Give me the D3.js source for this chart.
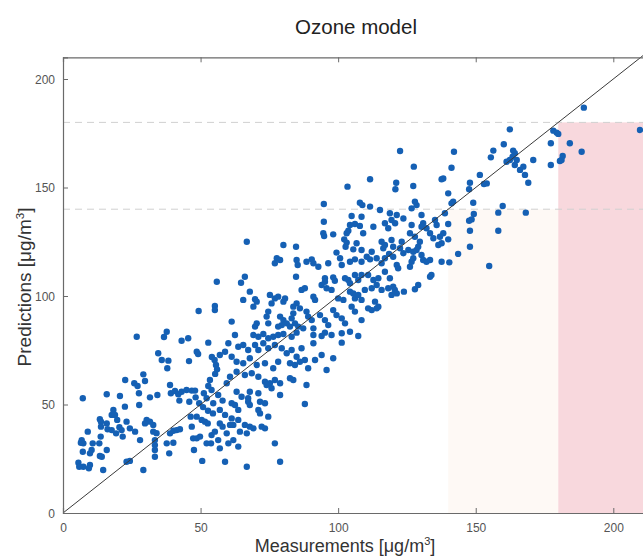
<!DOCTYPE html>
<html><head><meta charset="utf-8">
<script src="https://cdn.jsdelivr.net/npm/d3@7/dist/d3.min.js"></script>
<style>body{margin:0;background:#fff}svg{display:block}text{font-family:"Liberation Sans",Arial,sans-serif}</style>
</head><body>
<script>
const title = "Ozone model";
const xLabel = "Measurements [μg/m";
const yLabel = "Predictions [μg/m";
const xTicks = [0, 50, 100, 150, 200];
const yTicks = [0, 50, 100, 150, 200];
const xDomain = [0, 215];
const yDomain = [0, 210];
const thresholds = [140, 180];
const exceedLimit = 180;
const warnZone = [140, 180];
const points = [
[55.9,106.6],[49.3,93.1],[55.2,95.4],[55.2,93.5],[26.8,81.2],[37.7,83.5],[36.7,81.1],[43.1,79.4],[45.5,80.5],[52.8,78.5],
[34.6,73.6],[35.9,70.5],[38.3,70.2],[37.9,66.7],[48.6,74.3],[49.1,73.3],[45.8,70],[54.1,71.9],[55.1,70.5],[55.6,68.2],
[56,66.2],[55.3,64.1],[57,72.8],[58.9,74.3],[22.6,61.3],[25.9,59.8],[27.1,58.5],[29.2,63.9],[29.8,60.8],[27.6,55.2],
[27.7,49.8],[31.6,53.3],[34.3,54.4],[38.9,59],[39.2,55.2],[40.7,56.2],[41.9,54.7],[43.1,55.9],[44.9,56.7],[46.8,56.4],
[48,56.4],[42.3,51.8],[45.9,51.3],[48.2,53.3],[49.5,50.6],[51.2,55.2],[52.2,52.9],[53.4,61.3],[52.8,58.5],[54,56.7],
[54.6,50.6],[56.4,54.4],[58,51.8],[59.5,59.8],[50.9,48.8],[52.7,47.1],[54.5,45.9],[57,47.5],[58.9,45.2],[7.2,52.9],
[15.9,54.7],[20.7,53.9],[22.5,49],[19.7,42.9],[13.4,43.2],[13.8,42.1],[18.3,47.5],[18.9,45.2],[23.1,42.1],[24.3,39],
[26.2,37.5],[28,33.6],[20.5,39.5],[21.3,38.2],[21.7,35.2],[19.3,36.7],[17.7,45.2],[15.9,41.3],[16.2,38.6],[13.7,35.2],
[13.8,39.8],[17.7,38.2],[9,37.5],[10.8,32.1],[7.4,32.1],[13.2,32.1],[10.4,29],[6.8,33.6],[6.5,32.4],[7.2,28.2],
[9.8,27.5],[13.4,26.3],[14.1,25.9],[15.9,29],[14.6,19.8],[5.6,23.2],[7.4,21.3],[9.8,22.1],[5.9,21.3],[9.4,20.6],
[23.1,23.6],[24.3,24],[29.2,19.8],[30.4,42.9],[31.6,42.1],[29.8,41.3],[32.8,40.6],[32.8,37.5],[34,36.8],[33.4,33.6],
[33.4,31.3],[33.4,29],[33.4,25.9],[38.6,27.5],[37.7,32.1],[38.9,36.7],[40.1,37.9],[41.3,38.2],[42.5,38.6],[40.1,32.4],
[46.8,39.8],[47.3,34.4],[48.6,34.4],[49.8,35.2],[47.6,29],[50.6,24],[52.2,32.1],[53.8,32.1],[54,35.9],[55.2,37.5],
[56.4,33.6],[57,29.8],[58.9,23.6],[59.5,36.7],[60.1,32.1],[50.4,42.9],[51.6,42.1],[52.6,41.3],[48.6,44.4],[46.4,44.4],
[57,41.3],[58,39.8],
[94.8,142.4],[107.9,143],[108.8,141.9],[111.6,141.2],[115.2,139.6],[118.8,138.1],[104.9,136.9],[108.5,136.5],[119.4,135],[94.8,134.2],
[104.3,132.7],[106.1,133.2],[107.9,132.3],[112.8,131.9],[117,133.5],[118.2,131.2],[94.6,128.9],[94.9,127.6],[98.2,128.4],[103.7,130.1],
[103.1,128.9],[109.1,128.9],[66.8,125],[80.1,123.5],[84.7,122.7],[102.2,126.1],[103.1,124.6],[102.7,122.7],[106.7,124.3],[105.5,121.5],
[115.8,125],[117,123.5],[116.4,122],[119.4,125.8],[120,122.7],[112.2,120.4],[108.5,121.2],[99.4,120],[77.7,117.4],[78.9,116.6],
[77,115.1],[84.9,116.6],[85.3,114.3],[88.5,115.8],[90.4,116.9],[91,115.1],[92.8,113.5],[96.4,115.1],[100.7,117.4],[101.3,114.3],
[104.3,115.8],[106.1,116.9],[108.5,115.8],[110.4,118.1],[111.6,116.9],[114,117.4],[115.8,115.1],[117,117.4],[118.5,119.4],[120,118.1],
[66.1,108.9],[64.7,106.1],[84.7,108.9],[95.2,108.2],[95.2,106.6],[98.2,108.6],[98.8,107],[103.7,107.4],[104.3,105.9],[102.5,108.2],
[106.1,109.7],[107.3,107.4],[108.5,109.7],[110.9,109.7],[112.8,107.4],[114.6,108.2],[117,111.2],[118.8,108.2],[120,104.3],[67.9,102],
[69.8,98.5],[70.4,97.4],[65.5,98.2],[69.2,95.1],[75.2,100.5],[77,98.9],[78.2,99.7],[75.8,96.6],[80.7,98.9],[80.1,97.4],
[83.7,95.1],[84.9,96.6],[86.1,94.3],[83.7,92],[86.7,102.8],[87.9,103.6],[91,99.7],[91.6,98.2],[94,105.1],[95.8,103.6],
[97.6,102.8],[100,98.9],[101.9,98.2],[104.3,102],[105.5,101.2],[106.1,98.9],[107.3,100.5],[108.5,98.2],[109.7,102.8],[112.2,103.6],
[114,105.1],[115.8,102.8],[118.2,103.6],[119.4,100.5],[113.4,97.4],[114.6,95.1],[110.9,94.3],[104.9,95.1],[106.1,92.8],[98.2,93.5],
[99.4,91.2],[74.6,92.8],[74,90.5],[70.4,87.4],[69.8,85.9],[61.3,88.2],[78.9,90.5],[80.1,88.9],[81.3,87.4],[79.5,86.6],
[78.2,85.9],[83.1,89.7],[84.3,87.4],[85.5,85.9],[82.5,85.9],[88.5,92.8],[89.1,90.5],[90.4,88.9],[93.4,91.2],[95.2,88.9],
[96.4,86.6],[101.3,89.7],[102.5,87.4],[108.5,88.9],[112.2,93.5],[114,94.3],[87.3,85.1],[91,85.1],[74.6,87.4],
[62.5,82],[69.2,82],[71,81.2],[72.8,82.5],[74.6,80.5],[76.4,81.2],[78.2,82],[80.1,82.5],[83.1,81.2],[84.9,83.1],
[91,82],[94,81.6],[95.2,83.1],[97.6,82],[101.3,82.8],[104.3,83.5],[107.3,81.6],[60.1,78.2],[63.7,76.6],[65.5,77.4],
[67.3,75.1],[69.8,77.4],[71,75.1],[72.8,78.2],[74.6,75.9],[77,77.4],[79.5,75.9],[81.3,73.6],[83.1,75.1],[84.9,72],
[86.7,75.9],[87.9,70.5],[91,78.2],[94,72.8],[98.2,71.3],[101.3,78.5],[61.3,72],[63.1,69.7],[65.5,69],[67.9,71.3],
[70.4,68.2],[73.4,69],[76.4,66.7],[78.2,69.7],[82.5,69],[84.3,68.2],[86.1,69.7],[89.1,66.7],[91.6,70.5],[95.8,65.9],
[60.7,62.8],[63.1,65.1],[66.1,63.6],[68.6,64.4],[71,62.8],[73.4,60.5],[75.2,59.8],[77,61.3],[78.9,59.8],[82.5,62.1],
[83.7,61.3],[88.5,59],[63.1,55.9],[64.9,53.6],[67.3,52.9],[67.9,55.9],[71,55.2],[74,59],[75.8,57.5],[78.9,54.4],
[61.3,50.6],[62.5,49.8],[63.7,47.5],[67.3,51.3],[67.9,49.8],[71.6,51.3],[73.4,50.6],[71,47.5],[71.6,45.9],[87.9,50.2],
[74.6,44.4],[61.3,43.6],[63.7,42.9],[61.9,40.6],[60.7,40.6],[66.1,40.6],[67.9,39.8],[69.2,39],[72.2,39.8],[73.4,39],
[64.3,37.5],[66.8,36.7],[61.9,33.6],[63.7,30.6],[77,32.1],[78.9,23.6],[66.8,21.3],
[111.6,153.8],[103.4,150.4],[121.1,152.2],[120.8,149.2],
[141.8,143.5],[141.2,142.7],[149.1,143],[159.8,141.5],[158.2,138.4],[168.2,138.4],[149.3,137.8],[148.5,135.3],[147.6,134.7],[147.9,130.1],
[158.2,130.1],[147.9,122.7],[154.9,113.8],[143.6,119.4],[140.4,115.5],[137.6,115.8],[140,126.1],[138.2,128.9],[137,127.3],[137.6,124.3],
[136.4,123.5],[135.2,135],[135.8,132.7],[140,133.2],[138.8,138.1],[130.3,137.3],[130.9,133.5],[130.3,131.9],[132.1,131.2],[133.4,128.9],
[134.6,126.6],[126.7,140.4],[128.5,141.9],[127.9,143.5],[123.7,135.7],[121.3,137.3],[120.7,133.5],[126.7,132.7],[126.1,128.9],[127.9,127.3],
[129.7,125],[129.1,122.7],[123.1,125],[122.5,122],[123.7,119.7],[125.5,121.2],[127.3,120.4],[128.5,121.2],[130.3,118.9],[130.9,116.6],
[132.1,115.8],[133.4,116.6],[126.1,113.5],[121.3,114.3],[121.8,112.8],[127.3,117.4],[126.7,115.8],[133.9,109.7],[133.4,108.9],[129.1,105.1],
[127.9,103.1],[120.6,102.8],[121.3,101.2],[123.9,102],
[189.3,186.8],[209.7,176.5],[162.4,176.8],[178.2,176.2],[179.4,175.3],[180,174.7],[160.2,169.9],[177.3,170.4],[184.2,170.4],[122.5,166.8],
[142.1,166.5],[156.4,167],[155.5,163.9],[163.6,167],[164.2,165.8],[163.4,164.2],[162.4,162.7],[161.2,161.9],[164.9,162.7],[164.2,160.4],
[166.1,158.1],[167.3,159.6],[167.9,155.8],[169.1,152.2],[170.9,162.7],[177.3,160.4],[181.2,162.7],[180.6,162.2],[181.6,164.5],[188.5,166.5],
[127.5,159.6],[141.2,159.1],[151.5,155.8],[154,151.9],[153,151.6],[138.2,154.2],[137.6,153.8],[147.9,152.2],[147.6,149.2],[127.3,150.7],
[140,147.3]
];

const W = 643, H = 558;
const left = 63, bottom = 513;
const pxPerX = 2.7515, pxPerY = 2.17;
const x = d3.scaleLinear().domain(xDomain).range([left, left + (xDomain[1]-xDomain[0])*pxPerX]);
const y = d3.scaleLinear().domain(yDomain).range([bottom, bottom - (yDomain[1]-yDomain[0])*pxPerY]);

const svg = d3.select("body").append("svg").attr("width", W).attr("height", H);
const x0 = x.range()[0], x1 = x.range()[1], y0 = y.range()[0], y1 = y.range()[1];

// shaded zones
svg.append("rect").attr("x", x(warnZone[0])).attr("y", y(warnZone[0])).attr("width", x(warnZone[1]) - x(warnZone[0])).attr("height", y(0) - y(warnZone[0])).attr("fill", "#fef9f5");
svg.append("rect").attr("x", x(exceedLimit)).attr("y", y(exceedLimit)).attr("width", x1 - x(exceedLimit)).attr("height", y(0) - y(exceedLimit)).attr("fill", "#f8d8dd");

// dashed threshold lines
svg.selectAll("line.thr").data(thresholds).enter().append("line")
  .attr("x1", x0).attr("x2", x1).attr("y1", d => y(d)).attr("y2", d => y(d))
  .attr("stroke", "#d0d0d0").attr("stroke-width", 1).attr("stroke-dasharray", "7,5");

// points
svg.append("g").selectAll("circle").data(points).enter().append("circle")
  .attr("cx", d => x(d[0])).attr("cy", d => y(d[1])).attr("r", 3.2).attr("fill", "#1560b4");

// 1:1 line
svg.append("line").attr("x1", x(0)).attr("y1", y(0)).attr("x2", x(xDomain[1])).attr("y2", y(xDomain[1]))
  .attr("stroke", "#3a3a3a").attr("stroke-width", 1);

// axes (MATLAB style, ticks inward, box)
const axCol = "#6a6a6a";
const gx = svg.append("g").attr("transform", `translate(0,${y0})`)
  .call(d3.axisBottom(x).tickValues(xTicks).tickSize(-5).tickPadding(10).tickFormat(d3.format("d")));
const gxTop = svg.append("g").attr("transform", `translate(0,${y1})`)
  .call(d3.axisTop(x).tickValues(xTicks).tickSize(-5).tickFormat(""));
const gy = svg.append("g").attr("transform", `translate(${x0},0)`)
  .call(d3.axisLeft(y).tickValues(yTicks).tickSize(-5).tickPadding(8).tickFormat(d3.format("d")));
[gx, gxTop, gy].forEach(g => {
  g.select(".domain").attr("stroke", axCol).attr("stroke-width", 1.2);
  g.selectAll(".tick line").attr("stroke", axCol);
  g.selectAll(".tick text").attr("fill", "#555").attr("font-size", 12).attr("font-family", "Liberation Sans, Arial, sans-serif");
});
gy.selectAll(".tick text").attr("dy", "0.35em");

// title and labels
svg.append("text").attr("x", 356).attr("y", 34).attr("text-anchor", "middle")
  .attr("font-size", 20.5).attr("fill", "#222").text(title);
const xl = svg.append("text").attr("x", 345).attr("y", 552).attr("text-anchor", "middle")
  .attr("font-size", 18).attr("fill", "#333");
xl.append("tspan").text(xLabel);
xl.append("tspan").attr("font-size", 11).attr("dy", -7).text("3");
xl.append("tspan").attr("dy", 7).text("]");
const yl = svg.append("text").attr("transform", "translate(31,287) rotate(-90)").attr("text-anchor", "middle")
  .attr("font-size", 19).attr("fill", "#333");
yl.append("tspan").text(yLabel);
yl.append("tspan").attr("font-size", 11.5).attr("dy", -7).text("3");
yl.append("tspan").attr("dy", 7).text("]");
</script>
</body></html>
